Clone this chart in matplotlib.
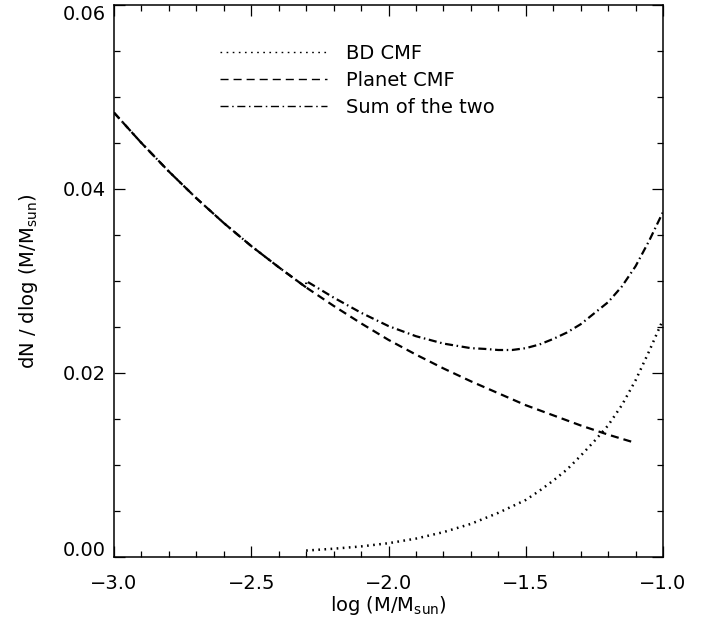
import matplotlib
matplotlib.use("Agg")
import matplotlib.pyplot as plt
from matplotlib.lines import Line2D
from matplotlib.ticker import MultipleLocator, FuncFormatter
from matplotlib.transforms import ScaledTranslation

plt.rcParams['font.family'] = ['DejaVu Sans']
plt.rcParams['lines.scale_dashes'] = False

# Planet CMF (dashed)
planet_x = [-3.0, -2.9, -2.8, -2.7, -2.6, -2.5, -2.4, -2.3, -2.2, -2.1, -2.0,
            -1.9, -1.8, -1.7, -1.6, -1.5, -1.4, -1.3, -1.2, -1.1]
planet_y = [0.0483, 0.0450, 0.0419, 0.0390, 0.0363, 0.0338, 0.0315, 0.0293,
            0.0273, 0.0254, 0.0236, 0.0220, 0.0205, 0.0191, 0.0178, 0.0165,
            0.0154, 0.0143, 0.0133, 0.0124]

# BD CMF (dotted)
bd_x = [-2.3, -2.2, -2.1, -2.0, -1.9, -1.8, -1.7, -1.6, -1.5, -1.45, -1.4,
        -1.35, -1.3, -1.25, -1.2, -1.15, -1.1, -1.05, -1.0]
bd_y = [0.0007, 0.0009, 0.00115, 0.0015, 0.0020, 0.0027, 0.0036, 0.0048,
        0.0062, 0.0072, 0.0083, 0.0095, 0.0110, 0.0126, 0.0143, 0.0165,
        0.0192, 0.0224, 0.0258]

# Sum of the two (dash-dot)
sum_x = [-3.0, -2.9, -2.8, -2.7, -2.6, -2.5, -2.4, -2.3, -2.3, -2.2, -2.1,
         -2.0, -1.9, -1.8, -1.7, -1.65, -1.6, -1.55, -1.5, -1.45, -1.4,
         -1.35, -1.3, -1.25, -1.2, -1.15, -1.1, -1.05, -1.0]
sum_y = [0.0483, 0.0450, 0.0419, 0.0390, 0.0363, 0.0338, 0.0315, 0.0293,
         0.0300, 0.0282, 0.02655, 0.0251, 0.0240, 0.0232, 0.0227, 0.02262,
         0.0225, 0.0225, 0.0227, 0.0231, 0.0237, 0.0244, 0.0253, 0.0265,
         0.0277, 0.0294, 0.0316, 0.0344, 0.0375]

labels = ["BD CMF", "Planet CMF", "Sum of the two"]
x_ticks = [-3.0, -2.5, -2.0, -1.5, -1.0]
y_ticks = [0.00, 0.02, 0.04, 0.06]

dot_style = (0, (1.2, 3.2))
dash_style = (0, (5.8, 3.6))
dashdot_style = (0, (5.8, 2.6, 1.1, 2.6))

fig = plt.figure(figsize=(7.17, 6.30), dpi=100)
ax = fig.add_axes([114/717, 1 - 557/630, 549/717, 552/630])

ax.plot(bd_x, bd_y, color='black', lw=1.8, linestyle=dot_style)
ax.plot(planet_x, planet_y, color='black', lw=1.6, linestyle=dash_style)
ax.plot(sum_x, sum_y, color='black', lw=1.6, linestyle=dashdot_style)

ax.set_xlim(-3.0, -1.0)
ax.set_ylim(0.0, 0.06)
ax.set_xticks(x_ticks)
ax.set_yticks(y_ticks)
ax.xaxis.set_minor_locator(MultipleLocator(0.1))
ax.yaxis.set_minor_locator(MultipleLocator(0.005))
ax.xaxis.set_major_formatter(FuncFormatter(lambda v, p: ('%.1f' % v).replace('-', '\u2212')))
ax.yaxis.set_major_formatter(FuncFormatter(lambda v, p: '%.2f' % abs(v)))
ax.tick_params(which='both', direction='in', top=True, right=True, width=0.9,
               labelsize=14, colors='black')
ax.tick_params(which='major', length=8)
ax.tick_params(which='minor', length=4.3)
ax.tick_params(axis='x', which='major', pad=12)
ax.tick_params(axis='y', which='major', pad=6)
for s in ax.spines.values():
    s.set_linewidth(1.1)

# nudge the end labels of the y axis inward, as in the reference
yt = ax.yaxis.get_major_ticks()
yt[0].label1.set_transform(yt[0].label1.get_transform() +
                           ScaledTranslation(0, 8/100, fig.dpi_scale_trans))
yt[-1].label1.set_transform(yt[-1].label1.get_transform() +
                            ScaledTranslation(0, -7/100, fig.dpi_scale_trans))

ax.set_xlabel(r"log (M/M$_{\mathrm{sun}}$)", fontsize=14, labelpad=1)
ax.set_ylabel(r"dN / dlog (M/M$_{\mathrm{sun}}$)", fontsize=14, labelpad=16)

handles = [Line2D([], [], color='black', lw=1.0, linestyle=dot_style),
           Line2D([], [], color='black', lw=1.0, linestyle=dash_style),
           Line2D([], [], color='black', lw=1.0, linestyle=dashdot_style)]
ax.legend(handles, labels, loc='upper left', bbox_to_anchor=(0.193, 0.93),
          frameon=False, fontsize=14, handlelength=5.5, handletextpad=1.0,
          labelspacing=0.42, borderpad=0, borderaxespad=0)

fig.savefig("out.png", dpi=100)
